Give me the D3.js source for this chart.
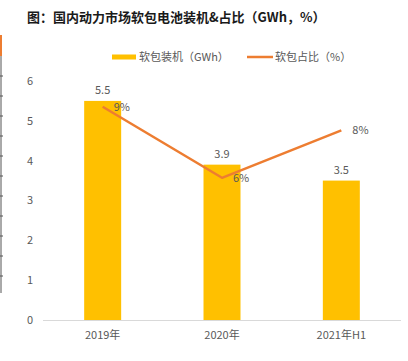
<!DOCTYPE html>
<html>
<head>
<meta charset="utf-8">
<script src="https://cdn.jsdelivr.net/npm/d3@7"></script>
<style>
  body { margin: 0; background: #fff; }
  svg { display: block; font-family: "Noto Sans CJK SC", "Noto Sans", sans-serif; }
</style>
</head>
<body>
<svg id="chart"></svg>
<script>
// data
const categories = ["2019年", "2020年", "2021年H1"];
const installed = [5.5, 3.9, 3.5];      // 软包装机 (GWh)
const share = [0.09, 0.06, 0.08];       // 软包占比
const yTicks = [0, 1, 2, 3, 4, 5, 6];

const width = 408, height = 361;
const margin = { top: 81, right: 7, bottom: 41, left: 43 };

const svg = d3.select("#chart").attr("width", width).attr("height", height);

const x = d3.scaleBand()
  .domain(categories)
  .range([margin.left, width - margin.right])
  .paddingInner(0.69)
  .paddingOuter(0.345);

const y = d3.scaleLinear().domain([0, 6]).range([height - margin.bottom, margin.top]);
// hidden secondary axis for the share line
const y2 = d3.scaleLinear().domain([0, 0.1]).range([height - margin.bottom, margin.top + 2]);

const textColor = "#595959";
const barColor = "#FFC000";
const lineColor = "#ED7D31";
const pct = d3.format(".0%");

// page edge artifact on the left
const edge = svg.append("g");
edge.append("line")
  .attr("x1", 1).attr("x2", 1).attr("y1", 35).attr("y2", 293)
  .attr("stroke", "#555").attr("stroke-width", 1);
edge.append("rect")
  .attr("x", 0).attr("y", 35).attr("width", 2).attr("height", 21)
  .attr("fill", lineColor);
edge.selectAll("line.tk")
  .data(d3.range(76, 293, 20))
  .join("line")
  .attr("class", "tk")
  .attr("x1", 0).attr("x2", 3)
  .attr("y1", d => d).attr("y2", d => d)
  .attr("stroke", "#555");

// title
svg.append("text")
  .attr("x", 27).attr("y", 22)
  .attr("font-size", 13).attr("font-weight", "bold").attr("fill", "#1a1a1a")
  .text("图：国内动力市场软包电池装机&占比（GWh，%）");

// legend
const legend = svg.append("g").attr("font-size", 11).attr("fill", textColor);
legend.append("rect").attr("x", 112).attr("y", 54.5).attr("width", 24).attr("height", 5).attr("fill", barColor);
legend.append("text").attr("x", 139).attr("y", 61).text("软包装机（GWh）");
legend.append("line").attr("x1", 247).attr("x2", 273).attr("y1", 57).attr("y2", 57)
  .attr("stroke", lineColor).attr("stroke-width", 2.5);
legend.append("text").attr("x", 275).attr("y", 61).text("软包占比（%）");

// y axis labels
svg.append("g")
  .attr("font-size", 11).attr("fill", textColor)
  .selectAll("text")
  .data(yTicks)
  .join("text")
  .attr("x", 30)
  .attr("y", d => y(d))
  .attr("dy", "0.35em")
  .attr("text-anchor", "middle")
  .text(d => d);

// bars
svg.append("g")
  .selectAll("rect")
  .data(installed)
  .join("rect")
  .attr("x", (d, i) => x(categories[i]))
  .attr("y", d => y(d))
  .attr("width", x.bandwidth())
  .attr("height", d => y(0) - y(d))
  .attr("fill", barColor);

// baseline
svg.append("line")
  .attr("x1", margin.left).attr("x2", width - margin.right)
  .attr("y1", y(0) + 0.5).attr("y2", y(0) + 0.5)
  .attr("stroke", "#d9d9d9");

// x labels
svg.append("g")
  .attr("font-size", 11).attr("fill", textColor)
  .selectAll("text")
  .data(categories)
  .join("text")
  .attr("x", d => x(d) + x.bandwidth() / 2)
  .attr("y", y(0) + 19)
  .attr("text-anchor", "middle")
  .text(d => d);

// bar value labels
svg.append("g")
  .attr("font-size", 11).attr("fill", textColor)
  .selectAll("text")
  .data(installed)
  .join("text")
  .attr("x", (d, i) => x(categories[i]) + x.bandwidth() / 2)
  .attr("y", d => y(d) - 7)
  .attr("text-anchor", "middle")
  .text(d => d.toFixed(1));

// share line
const cx = (d, i) => x(categories[i]) + x.bandwidth() / 2;
const line = d3.line().x(cx).y(d => y2(d));
svg.append("path")
  .datum(share)
  .attr("d", line)
  .attr("fill", "none")
  .attr("stroke", lineColor)
  .attr("stroke-width", 2.5)
  .attr("stroke-linejoin", "round");

svg.append("g")
  .attr("font-size", 11).attr("fill", textColor)
  .selectAll("text")
  .data(share)
  .join("text")
  .attr("x", (d, i) => cx(d, i) + 11)
  .attr("y", d => y2(d))
  .attr("dy", "0.35em")
  .text(d => pct(d));
</script>
</body>
</html>
